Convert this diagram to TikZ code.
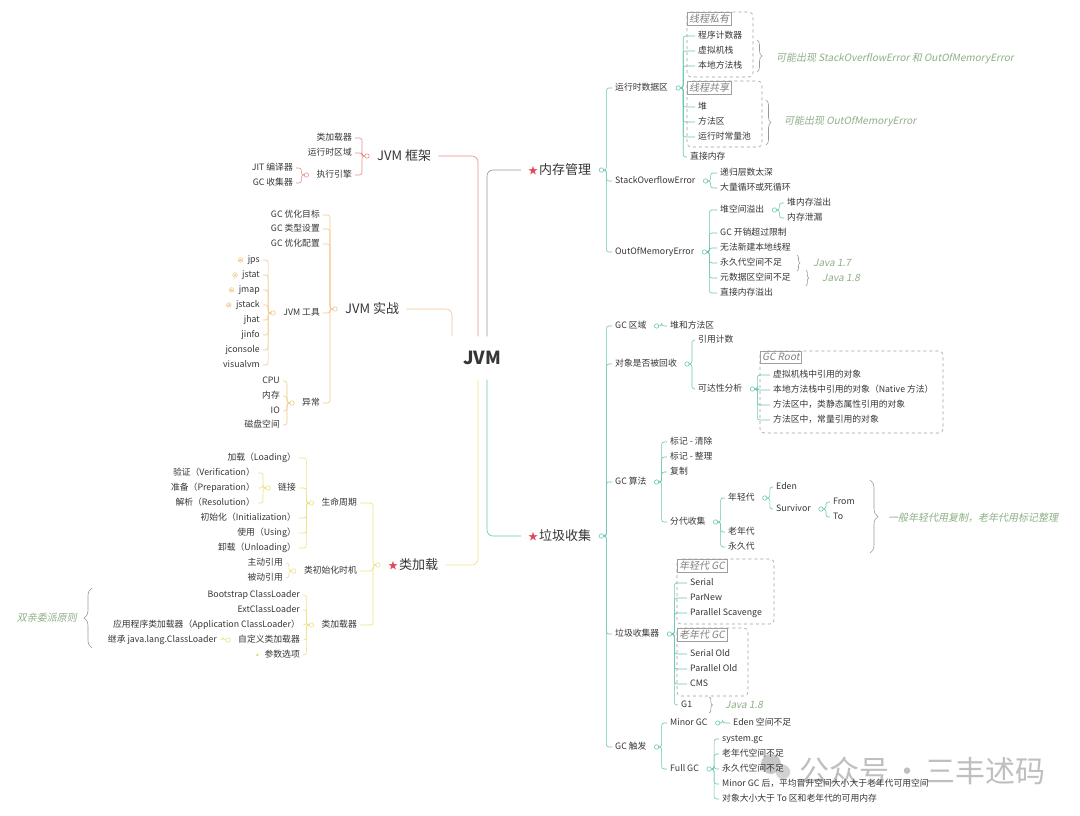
\documentclass[tikz,border=0pt]{standalone}
\usepackage{fontspec}
\setmainfont{Noto Sans CJK SC}
\newfontfamily\noteit[FakeSlant=0.2]{Noto Sans CJK SC}
\usetikzlibrary{decorations.pathreplacing}

\definecolor{txt}{HTML}{363636}
\definecolor{tealc}{HTML}{6CC6B4}
\definecolor{graytl}{HTML}{8C9C9C}
\definecolor{pinkc}{HTML}{E98F8A}
\definecolor{orgc}{HTML}{F2C98C}
\definecolor{ylwc}{HTML}{EEE07E}
\definecolor{notec}{HTML}{8DAF86}
\definecolor{starc}{HTML}{E0475A}
\newcommand{\redstar}{\textcolor{starc}{\fontsize{10}{12}\selectfont ★}\hspace{1pt}}

\tikzset{
	lf/.style={font=\fontsize{8.8}{10}\selectfont, text=txt, inner sep=1pt, text height=7pt, text depth=1.8pt, anchor=west},
	ll/.style={lf, anchor=east},
	hd/.style={font=\fontsize{13}{15}\selectfont, text=txt, inner sep=1pt, anchor=west},
	jv/.style={font=\bfseries\fontsize{18}{20}\selectfont, text=txt, minimum height=43pt, inner sep=0pt},
	note/.style={font=\noteit\fontsize{10}{12}\selectfont, text=notec, inner sep=1pt, anchor=west},
	ttl/.style={draw=gray!75, font=\noteit\fontsize{10}{12}\selectfont, text=gray, fill=white, inner sep=2pt, anchor=north west},
	grp/.style={draw=gray!75, dashed, rounded corners=4pt, line width=0.6pt},
	wm/.style={font=\fontsize{30}{32}\selectfont, text=gray!50},
	rk/.style={shorten >=2pt, to path={([xshift=11.2pt]\tikztostart.east) -- ([xshift=14pt]\tikztostart.east) |- (\tikztotarget.west)}},
	lk/.style={shorten >=2pt, to path={([xshift=-11.2pt]\tikztostart.west) -- ([xshift=-14pt]\tikztostart.west) |- (\tikztotarget.east)}},
	tl/.style={draw=tealc, line width=0.6pt, rounded corners=2.5pt},
	pk/.style={draw=pinkc, line width=0.6pt, rounded corners=2.5pt},
	og/.style={draw=orgc, line width=0.6pt, rounded corners=2.5pt},
	yl/.style={draw=ylwc, line width=0.6pt, rounded corners=2.5pt},
	brc/.style={decorate, decoration={brace, amplitude=5pt}, draw=gray!80, line width=0.6pt},
}

\begin{document}
\begin{tikzpicture}[x=1pt,y=-1pt]
	\fill[white] (0,0) rectangle (1080,815);

	\fill[gray!45] (771,764) circle (10pt);
	\fill[gray!35, draw=white] (783,772) circle (7.5pt);
	\node[wm] (wmk) at (922,771) {公众号\hspace{3pt}·\hspace{3pt}三丰述码};

	\draw[grp] (687,12) rectangle (753,77);
	\draw[grp] (687,81) rectangle (762,147);
	\draw[grp] (760,351) rectangle (943,433);
	\draw[grp] (677,559) rectangle (774,624);
	\draw[grp] (677,628) rectangle (748,696);

	\node[jv] (jvm) at (482,358) {JVM};
	\node[hd] (mem) at (527,170) {\redstar 内存管理};
	\node[hd] (gcl) at (527,536) {\redstar 垃圾收集};
	\node[hd] (fw) at (376,156) {JVM 框架};
	\node[hd] (pr) at (344,309) {JVM 实战};
	\node[hd] (cld) at (387,565) {\redstar 类加载};

	\node[lf] (rt) at (614,88) {运行时数据区};
	\node[lf] (so) at (614,181) {StackOverflowError};
	\node[lf] (oom) at (614,252) {OutOfMemoryError};
	\node[lf] (pc) at (697,36) {程序计数器};
	\node[lf] (vms) at (697,51) {虚拟机栈};
	\node[lf] (nms) at (697,66) {本地方法栈};
	\node[lf] (heap) at (697,107) {堆};
	\node[lf] (ma) at (697,122) {方法区};
	\node[lf] (rcp) at (697,137) {运行时常量池};
	\node[lf] (dm) at (689,157) {直接内存};
	\node[lf] (rec) at (719,173) {递归层数太深};
	\node[lf] (loop) at (719,188) {大量循环或死循环};
	\node[lf] (hso) at (719,210) {堆空间溢出};
	\node[lf] (gco) at (719,233) {GC 开销超过限制};
	\node[lf] (ntl) at (719,248) {无法新建本地线程};
	\node[lf] (pgs) at (719,263) {永久代空间不足};
	\node[lf] (mds) at (719,278) {元数据区空间不足};
	\node[lf] (dmo) at (719,293) {直接内存溢出};
	\node[lf] (hmo) at (786,203) {堆内存溢出};
	\node[lf] (mlk) at (786,218) {内存泄漏};
	\node[ttl] (tpriv) at (687,12) {线程私有};
	\node[ttl] (tshr) at (687,81) {线程共享};

	\node[lf] (gca) at (614,326) {GC 区域};
	\node[lf] (obj) at (614,364) {对象是否被回收};
	\node[lf] (alg) at (614,482) {GC 算法};
	\node[lf] (col) at (614,634) {垃圾收集器};
	\node[lf] (trg) at (614,747) {GC 触发};
	\node[lf] (hm) at (669,326) {堆和方法区};
	\node[lf] (rc) at (697,340) {引用计数};
	\node[lf] (ra) at (697,389) {可达性分析};
	\node[lf] (r1) at (772,375) {虚拟机栈中引用的对象};
	\node[lf] (r2) at (772,390) {本地方法栈中引用的对象（Native 方法）};
	\node[lf] (r3) at (772,405) {方法区中，类静态属性引用的对象};
	\node[lf] (r4) at (772,420) {方法区中，常量引用的对象};
	\node[ttl] (groot) at (760,351) {GC Root};
	\node[lf] (mc) at (669,442) {标记 - 清除};
	\node[lf] (mz) at (669,457) {标记 - 整理};
	\node[lf] (cp) at (669,472) {复制};
	\node[lf] (gen) at (669,522) {分代收集};
	\node[lf] (yg) at (727,498) {年轻代};
	\node[lf] (og) at (727,532) {老年代};
	\node[lf] (pg) at (727,547) {永久代};
	\node[lf] (eden) at (775,487) {Eden};
	\node[lf] (surv) at (775,509) {Survivor};
	\node[lf] (sfrom) at (832,502) {From};
	\node[lf] (sto) at (832,517) {To};
	\node[lf] (serial) at (689,583) {Serial};
	\node[lf] (parnew) at (689,598) {ParNew};
	\node[lf] (ps) at (689,613) {Parallel Scavenge};
	\node[lf] (sold) at (689,654) {Serial Old};
	\node[lf] (pold) at (689,669) {Parallel Old};
	\node[lf] (cms) at (689,684) {CMS};
	\node[lf] (gone) at (680,705) {G1};
	\node[ttl] (tyg) at (677,559) {年轻代 GC};
	\node[ttl] (tog) at (677,628) {老年代 GC};
	\node[lf] (minor) at (669,723) {Minor GC};
	\node[lf] (full) at (669,769) {Full GC};
	\node[lf] (edn) at (732,723) {Eden 空间不足};
	\node[lf] (sgc) at (721,739) {system.gc};
	\node[lf] (ogs) at (721,754) {老年代空间不足};
	\node[lf] (pgs2) at (721,769) {永久代空间不足};
	\node[lf] (mgc) at (721,784) {Minor GC 后，平均晋升空间大小大于老年代可用空间};
	\node[lf] (obs) at (721,799) {对象大小大于 To 区和老年代的可用内存};

	\node[ll] (cl) at (353,138) {类加载器};
	\node[ll] (rta) at (353,153) {运行时区域};
	\node[ll] (ee) at (353,175) {执行引擎};
	\node[ll] (jit) at (294,168) {JIT 编译器};
	\node[ll] (gcc) at (294,183) {GC 收集器};

	\node[ll] (go) at (321,215) {GC 优化目标};
	\node[ll] (gt) at (321,229) {GC 类型设置};
	\node[ll] (gcfg) at (321,244) {GC 优化配置};
	\node[ll] (tools) at (321,313) {JVM 工具};
	\node[ll] (exc) at (321,403) {异常};
	\node[ll] (jps) at (261,260) {jps};
	\node[ll] (jstat) at (261,275) {jstat};
	\node[ll] (jmap) at (261,290) {jmap};
	\node[ll] (jstack) at (261,305) {jstack};
	\node[ll] (jhat) at (261,320) {jhat};
	\node[ll] (jinfo) at (261,335) {jinfo};
	\node[ll] (jcon) at (261,350) {jconsole};
	\node[ll] (vvm) at (261,365) {visualvm};
	\node[ll] (cpu) at (281,381) {CPU};
	\node[ll] (nc) at (281,396) {内存};
	\node[ll] (io) at (281,411) {IO};
	\node[ll] (disk) at (281,425) {磁盘空间};

	\node[ll] (life) at (358,503) {生命周期};
	\node[ll] (init) at (358,571) {类初始化时机};
	\node[ll] (ldr) at (358,625) {类加载器};
	\node[ll] (load) at (297,458) {加载（Loading）};
	\node[ll] (link) at (297,488) {链接};
	\node[ll] (ini) at (297,518) {初始化（Initialization）};
	\node[ll] (use) at (297,533) {使用（Using）};
	\node[ll] (unl) at (297,548) {卸载（Unloading）};
	\node[ll] (ver) at (256,473) {验证（Verification）};
	\node[ll] (prep) at (256,488) {准备（Preparation）};
	\node[ll] (res) at (256,503) {解析（Resolution）};
	\node[ll] (act) at (284,563) {主动引用};
	\node[ll] (pas) at (284,578) {被动引用};
	\node[ll] (bs) at (301,595) {Bootstrap ClassLoader};
	\node[ll] (ext) at (301,610) {ExtClassLoader};
	\node[ll] (app) at (301,625) {应用程序类加载器（Application ClassLoader）};
	\node[ll] (cus) at (301,640) {自定义类加载器};
	\node[ll] (opt) at (301,655) {参数选项};
	\node[ll] (inh) at (218,640) {继承 java.lang.ClassLoader};

	\draw[draw=graytl, line width=0.6pt, rounded corners=6pt] ([xshift=-6pt]mem.west) -| ([xshift=5pt]jvm.north);
	\draw[tl, rounded corners=6pt] ([xshift=-6pt]gcl.west) -| ([xshift=5pt]jvm.south);
	\draw[pk, rounded corners=6pt] ([xshift=6pt]fw.east) -| ([xshift=-4pt]jvm.north);
	\draw[og, rounded corners=6pt] ([xshift=6pt]pr.east) -| ([xshift=-30pt]jvm.north);
	\draw[yl, rounded corners=6pt] ([xshift=6pt]cld.east) -| ([xshift=-4pt]jvm.south);

	\foreach \c in {rt,so,oom} \draw[tl] (mem) edge[rk] (\c);
	\foreach \c in {pc,vms,nms,heap,ma,rcp,dm} \draw[tl] (rt) edge[rk] (\c);
	\foreach \c in {rec,loop} \draw[tl] (so) edge[rk] (\c);
	\foreach \c in {hso,gco,ntl,pgs,mds,dmo} \draw[tl] (oom) edge[rk] (\c);
	\foreach \c in {hmo,mlk} \draw[tl] (hso) edge[rk] (\c);
	\foreach \c in {gca,obj,alg,col,trg} \draw[tl] (gcl) edge[rk] (\c);
	\draw[tl] (gca) edge[rk] (hm);
	\foreach \c in {rc,ra} \draw[tl] (obj) edge[rk] (\c);
	\foreach \c in {r1,r2,r3,r4} \draw[tl] (ra) edge[rk] (\c);
	\foreach \c in {mc,mz,cp,gen} \draw[tl] (alg) edge[rk] (\c);
	\foreach \c in {yg,og,pg} \draw[tl] (gen) edge[rk] (\c);
	\foreach \c in {eden,surv} \draw[tl] (yg) edge[rk] (\c);
	\foreach \c in {sfrom,sto} \draw[tl] (surv) edge[rk] (\c);
	\foreach \c in {serial,parnew,ps,sold,pold,cms,gone} \draw[tl] (col) edge[rk] (\c);
	\foreach \c in {minor,full} \draw[tl] (trg) edge[rk] (\c);
	\draw[tl] (minor) edge[rk] (edn);
	\foreach \c in {sgc,ogs,pgs2,mgc,obs} \draw[tl] (full) edge[rk] (\c);

	\foreach \c in {cl,rta,ee} \draw[pk] (fw) edge[lk] (\c);
	\foreach \c in {jit,gcc} \draw[pk] (ee) edge[lk] (\c);
	\foreach \c in {go,gt,gcfg,tools,exc} \draw[og] (pr) edge[lk] (\c);
	\foreach \c in {jps,jstat,jmap,jstack,jhat,jinfo,jcon,vvm} \draw[og] (tools) edge[lk] (\c);
	\foreach \c in {cpu,nc,io,disk} \draw[og] (exc) edge[lk] (\c);
	\foreach \c in {life,init,ldr} \draw[yl] (cld) edge[lk] (\c);
	\foreach \c in {load,link,ini,use,unl} \draw[yl] (life) edge[lk] (\c);
	\foreach \c in {ver,prep,res} \draw[yl] (link) edge[lk] (\c);
	\foreach \c in {act,pas} \draw[yl] (init) edge[lk] (\c);
	\foreach \c in {bs,ext,app,cus,opt} \draw[yl] (ldr) edge[lk] (\c);
	\draw[yl] (cus) edge[lk] (inh);

	\foreach \p in {mem,rt,so,oom,hso,gcl,gca,obj,ra,alg,gen,yg,surv,col,trg,minor,full} \draw[tl,fill=white] ([xshift=9pt]\p.east) circle (2.2pt);
	\foreach \p in {fw,ee} \draw[pk,fill=white] ([xshift=-9pt]\p.west) circle (2.2pt);
	\foreach \p in {pr,tools,exc} \draw[og,fill=white] ([xshift=-9pt]\p.west) circle (2.2pt);
	\foreach \p in {cld,life,link,init,ldr,cus} \draw[yl,fill=white] ([xshift=-9pt]\p.west) circle (2.2pt);
	\foreach \c in {jps,jstat,jmap,jstack}{
		\draw[og,fill=white] ([xshift=-6pt]\c.west) circle (2.3pt);
		\draw[og] ([xshift=-7.4pt]\c.west) -- ([xshift=-4.6pt]\c.west) ([xshift=-6pt,yshift=1.4pt]\c.west) -- ([xshift=-6pt,yshift=-1.4pt]\c.west);
	}
	\fill[ylwc!80!orange] ([xshift=-6pt]opt.west) circle (1.3pt);

	\draw[brc] (757,40) -- (757,72);
	\draw[brc] (766,100) -- (766,145);
	\draw[brc, decoration={amplitude=3pt}] ([xshift=14pt,yshift=8pt]pgs.east) -- ([xshift=14pt,yshift=-8pt]pgs.east);
	\draw[brc, decoration={amplitude=3pt}] ([xshift=14pt,yshift=8pt]mds.east) -- ([xshift=14pt,yshift=-8pt]mds.east);
	\draw[brc, decoration={amplitude=3pt}] ([xshift=16pt,yshift=8pt]gone.east) -- ([xshift=16pt,yshift=-8pt]gone.east);
	\draw[brc, decoration={amplitude=8pt}] (870,480) -- (870,553);
	\draw[brc, decoration={amplitude=8pt}] (92,648) -- (92,588);

	\node[note] (n1) at (775,58) {可能出现 StackOverflowError 和 OutOfMemoryError};
	\node[note] (n2) at (783,121) {可能出现 OutOfMemoryError};
	\node[note] (j17) at (812,263) {Java 1.7};
	\node[note] (j18) at (821,278) {Java 1.8};
	\node[note] (g18) at (724,705) {Java 1.8};
	\node[note] (yo) at (887,518) {一般年轻代用复制，老年代用标记整理};
	\node[note, anchor=east] (sq) at (78,618) {双亲委派原则};
\end{tikzpicture}
\end{document}
